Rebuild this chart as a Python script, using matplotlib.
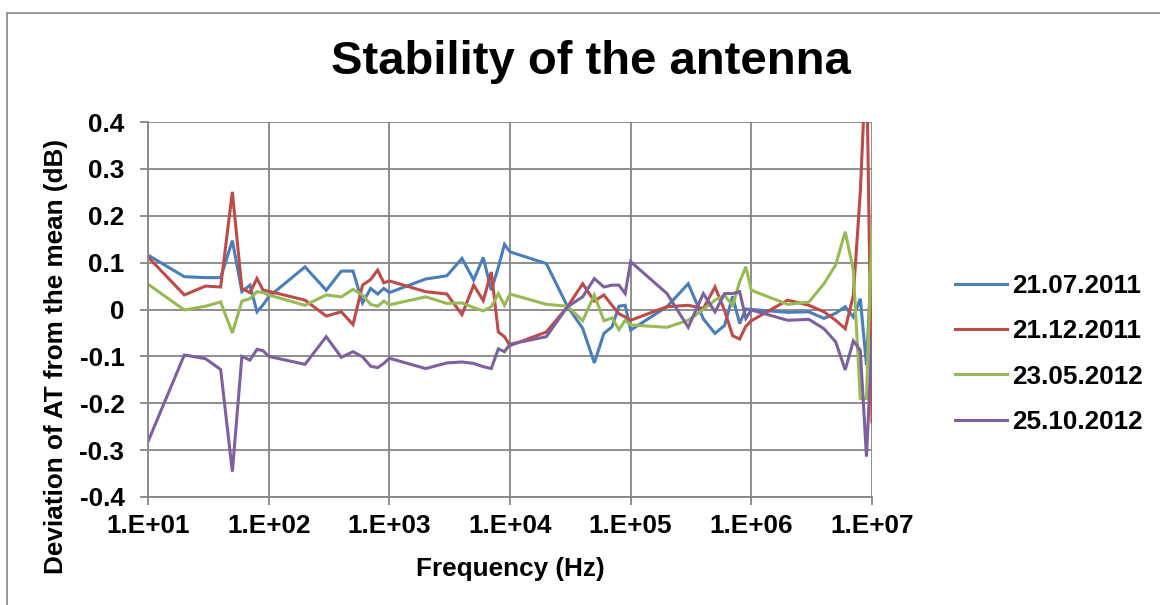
import matplotlib
matplotlib.use("Agg")
import matplotlib.pyplot as plt
from matplotlib.patches import Rectangle
from matplotlib.ticker import FixedLocator, NullLocator

plt.rcParams['font.family'] = ['Liberation Sans', 'DejaVu Sans']

# Frequencies: 1..9 x 10^n for n = 1..6, then 10 MHz
freqs = [m * 10 ** n for n in range(1, 7) for m in range(1, 10)] + [10 ** 7]

dev_2011_07 = [
    0.116, 0.070, 0.068, 0.068, 0.147, 0.038, 0.052, -0.005, 0.010,
    0.027, 0.091, 0.041, 0.082, 0.082, 0.014, 0.045, 0.033, 0.045,
    0.036, 0.065, 0.072, 0.109, 0.063, 0.111, 0.041, 0.090, 0.139,
    0.123, 0.098, 0.006, -0.040, -0.114, -0.051, -0.037, 0.007, 0.009,
    -0.044, 0.006, 0.055, -0.020, -0.051, -0.034, 0.028, -0.030, 0.001,
    0.000, -0.006, -0.005, -0.019, -0.008, 0.006, -0.016, 0.023, -0.119,
    0.127,
]
dev_2011_12 = [
    0.112, 0.031, 0.050, 0.048, 0.251, 0.045, 0.036, 0.066, 0.041,
    0.039, 0.020, -0.014, -0.005, -0.032, 0.052, 0.064, 0.084, 0.057,
    0.061, 0.038, 0.033, -0.011, 0.052, 0.019, 0.080, -0.048, -0.058,
    -0.077, -0.048, 0.006, 0.055, 0.018, 0.031, 0.009, -0.009, -0.016,
    -0.023, 0.006, 0.009, 0.002, 0.048, -0.002, -0.056, -0.063, -0.036,
    -0.024, 0.020, 0.009, -0.005, -0.023, -0.041, 0.030, 0.250, 0.550,
    -0.240,
]
dev_2012_05 = [
    0.054, -0.001, 0.007, 0.016, -0.050, 0.018, 0.023, 0.038, 0.036,
    0.031, 0.009, 0.031, 0.027, 0.043, 0.031, 0.011, 0.007, 0.018,
    0.010, 0.027, 0.013, 0.014, 0.004, -0.003, 0.006, 0.034, 0.009,
    0.033, 0.011, 0.007, -0.024, 0.031, -0.024, -0.018, -0.043, -0.023,
    -0.033, -0.038, -0.023, 0.000, 0.020, 0.030, 0.009, 0.059, 0.091,
    0.041, 0.011, 0.016, 0.055, 0.095, 0.166, 0.084, -0.190, -0.190,
    0.176,
]
dev_2012_10 = [
    -0.282, -0.097, -0.105, -0.128, -0.346, -0.100, -0.108, -0.085, -0.088,
    -0.100, -0.117, -0.058, -0.102, -0.090, -0.101, -0.121, -0.124, -0.115,
    -0.104, -0.126, -0.114, -0.112, -0.115, -0.122, -0.126, -0.084, -0.090,
    -0.074, -0.058, 0.006, 0.027, 0.066, 0.048, 0.052, 0.052, 0.034,
    0.102, 0.034, -0.038, 0.034, -0.005, 0.034, 0.034, 0.038, -0.019,
    -0.001, -0.023, -0.021, -0.041, -0.069, -0.129, -0.067, -0.087, -0.314,
    -0.062,
]

series_labels = ["21.07.2011", "21.12.2011", "23.05.2012", "25.10.2012"]
series_colors = ["#4A7EBB", "#BE4B48", "#98B954", "#7D60A0"]
x_ticks = [1e1, 1e2, 1e3, 1e4, 1e5, 1e6, 1e7]
x_tick_labels = ["1.E+01", "1.E+02", "1.E+03", "1.E+04", "1.E+05", "1.E+06", "1.E+07"]
y_ticks = [-0.4, -0.3, -0.2, -0.1, 0.0, 0.1, 0.2, 0.3, 0.4]
y_tick_labels = ["-0.4", "-0.3", "-0.2", "-0.1", "0", "0.1", "0.2", "0.3", "0.4"]

W, H = 1160, 605
FS = 18.8
fig = plt.figure(figsize=(W / 100, H / 100), dpi=100)
fig.patch.set_facecolor("white")

# chart-area frame
fig.patches.append(Rectangle((7 / W, -0.05), 1.2, (H - 13) / H + 0.05,
                             transform=fig.transFigure, fill=False,
                             edgecolor="#868686", linewidth=1.2))

ax = fig.add_axes([148 / W, 1 - 497 / H, (872 - 148) / W, (497 - 122) / H])
grid_c = "#868686"

all_series = [dev_2011_07, dev_2011_12, dev_2012_05, dev_2012_10]
for vals, lab, col in zip(all_series, series_labels, series_colors):
    ax.plot(freqs, vals, color=col, linewidth=2.2, label=lab,
            solid_joinstyle="miter")

ax.set_xscale("log")
ax.set_xlim(1e1, 1e7)
ax.set_ylim(-0.4, 0.4)
ax.xaxis.set_major_locator(FixedLocator(x_ticks))
ax.xaxis.set_minor_locator(NullLocator())
ax.set_xticks(x_ticks)
ax.set_xticklabels(x_tick_labels)
ax.set_yticks(y_ticks)
ax.set_yticklabels(y_tick_labels)

ax.grid(True, color=grid_c, linewidth=1.3)
ax.set_axisbelow(True)
for s in ["top", "right"]:
    ax.spines[s].set_visible(False)
for s in ["left", "bottom"]:
    ax.spines[s].set_color(grid_c)
    ax.spines[s].set_linewidth(1.3)

ax.tick_params(axis="both", which="major", direction="out", length=6,
               width=1.3, color=grid_c, labelsize=FS)
ax.tick_params(axis="x", pad=6)
ax.tick_params(axis="y", pad=11)
for t in ax.get_xticklabels() + ax.get_yticklabels():
    t.set_fontweight("bold")

fig.text(591 / W, 1 - 62 / H, "Stability of the antenna", ha="center",
         va="center", fontsize=34, fontweight="bold")
fig.text(510 / W, 1 - 569 / H, "Frequency (Hz)", ha="center", va="center",
         fontsize=FS, fontweight="bold")
fig.text(56 / W, 1 - 356 / H, "Deviation of AT from the mean (dB)",
         ha="center", va="center", rotation=90, fontsize=FS,
         fontweight="bold")

leg = fig.legend(loc="center left", bbox_to_anchor=(931 / W, 1 - 354 / H),
                 frameon=False, prop={"weight": "bold", "size": FS},
                 handlelength=2.0, handletextpad=0.2, labelspacing=0.81)

fig.savefig("out.png", dpi=100, facecolor="white")
